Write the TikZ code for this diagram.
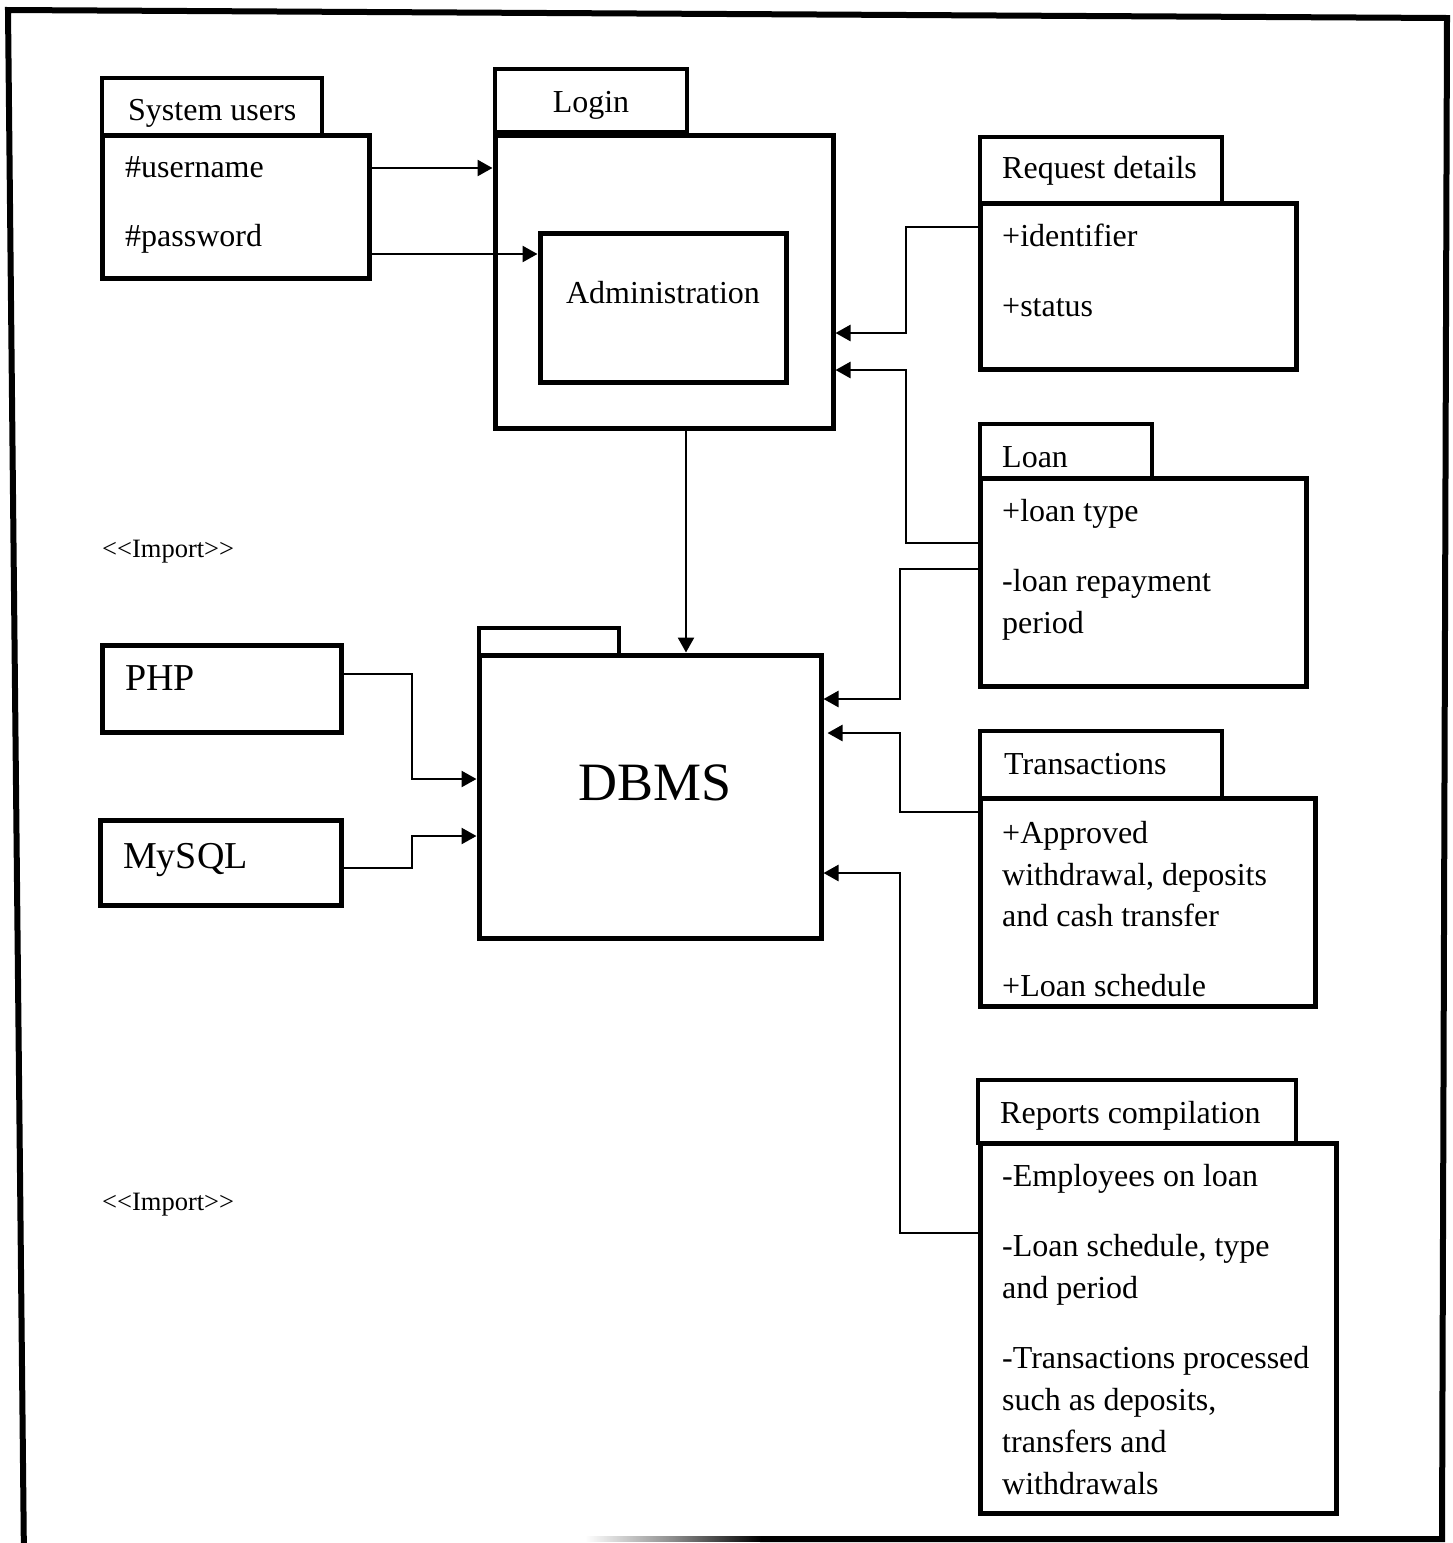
\documentclass[tikz,border=0pt]{standalone}
\usepackage{fontspec}
\setmainfont{Liberation Serif}
\newfontfamily\plainserif{Liberation Serif}
\usetikzlibrary{arrows.meta,fit}
\begin{document}
\begin{tikzpicture}[x=1pt,y=-1pt,
  box/.style={draw,line width=5pt,fill=white,inner sep=0pt,rectangle},
  tab/.style={draw,line width=4.5pt,fill=white,inner sep=0pt,rectangle},
  txt/.style={inner sep=0pt,anchor=base west,font=\fontsize{32}{38}\selectfont},
  ctxt/.style={inner sep=0pt,anchor=base,font=\fontsize{32}{38}\selectfont},
  big/.style={inner sep=0pt,anchor=base west,font=\fontsize{38}{44}\selectfont},
  imp/.style={inner sep=0pt,anchor=base west,font=\plainserif\fontsize{26.5}{30}\selectfont},
  conn/.style={line width=2.5pt,-{Triangle[length=15pt,width=16pt]}},
  frame/.style={line width=6pt,line join=miter}]
\useasboundingbox (0,0) rectangle (1452,1543);
\fill[white] (0,0) rectangle (1452,1543);

% outer frame
\draw[frame] (24,1560) -- (8,10) -- (1447,18) -- (1442,1539) -- (760,1539);
\shade[left color=white,right color=black,middle color=black!45] (585,1536.5) rectangle (761,1541.5);

% package tabs
\node[tab,fit={(102,78) (322,137)}] (sutab) {};
\node[tab,fit={(495,69) (687,132)}] (logtab) {};
\node[tab,fit={(479,628) (619,655)}] (dbtab) {};
\node[tab,fit={(980,137) (1222,203)}] (rqtab) {};
\node[tab,fit={(980,424) (1152,478)}] (lntab) {};
\node[tab,fit={(980,731) (1222,798)}] (trtab) {};
\node[tab,fit={(978,1080) (1296,1143)}] (rptab) {};

% package bodies
\node[box,fit={(102,135) (369,278)}] (su) {};
\node[box,fit={(495,135) (833,428)}] (login) {};
\node[box,fit={(540,233) (786,382)}] (admin) {};
\node[box,fit={(479,655) (821,938)}] (dbms) {};
\node[box,fit={(102,645) (341,732)}] (php) {};
\node[box,fit={(100,820) (341,905)}] (mysql) {};
\node[box,fit={(980,203) (1296,369)}] (rq) {};
\node[box,fit={(980,478) (1306,686)}] (ln) {};
\node[box,fit={(980,798) (1315,1006)}] (tr) {};
\node[box,fit={(980,1143) (1336,1513)}] (rp) {};

% texts
\node[txt] (susname) at (128,120) {System users};
\node[txt] (suuser) at (125,177) {\#username};
\node[txt] (supass) at (125,246) {\#password};
\node[ctxt] (logname) at (591,112) {Login};
\node[ctxt] (adminname) at (663,303) {Administration};
\node[inner sep=0pt,anchor=base,font=\fontsize{54}{60}\selectfont] (dbname) at (655,800) {DBMS};
\node[big] (phpname) at (125,690) {PHP};
\node[big] (mysqlname) at (123,868) {MySQL};

\node[txt] (rqname) at (1002,178) {Request details};
\node[txt] (rq1) at (1002,246) {+identifier};
\node[txt] (rq2) at (1002,316) {+status};

\node[txt] (lnname) at (1002,467) {Loan};
\node[txt] (ln1) at (1002,521) {+loan type};
\node[txt] (ln2) at (1002,591) {-loan repayment};
\node[txt] (ln3) at (1002,633) {period};

\node[txt] (trname) at (1004,774) {Transactions};
\node[txt] (tr1) at (1002,843) {+Approved};
\node[txt] (tr2) at (1002,885) {withdrawal, deposits};
\node[txt] (tr3) at (1002,926) {and cash transfer};
\node[txt] (tr4) at (1002,996) {+Loan schedule};

\node[txt] (rpname) at (1000,1123) {Reports compilation};
\node[txt] (rp1) at (1002,1186) {-Employees on loan};
\node[txt] (rp2) at (1002,1256) {-Loan schedule, type};
\node[txt] (rp3) at (1002,1298) {and period};
\node[txt] (rp4) at (1002,1368) {-Transactions processed};
\node[txt] (rp5) at (1002,1410) {such as deposits,};
\node[txt] (rp6) at (1002,1452) {transfers and};
\node[txt] (rp7) at (1002,1494) {withdrawals};

\node[imp] (imp1) at (102,557) {<<Import>>};
\node[imp] (imp2) at (102,1210) {<<Import>>};

% connectors
\draw[conn] (su.east |- 0,168) -- (login.west |- 0,168);
\draw[conn] (su.east |- 0,254) -- (admin.west |- 0,254);
\draw[conn] (rq.west |- 0,227) -| (906,333) -- (login.east |- 0,333);
\draw[conn] (ln.west |- 0,543) -| (906,370) -- (login.east |- 0,370);
\draw[conn] (login.south -| 686,0) -- (dbms.north -| 686,0);
\draw[conn] (ln.west |- 0,569) -| (900,699) -- (dbms.east |- 0,699);
\draw[conn,shorten >=4pt] (tr.west |- 0,812) -| (900,733) -- (dbms.east |- 0,733);
\draw[conn] (rp.west |- 0,1233) -| (900,873) -- (dbms.east |- 0,873);
\draw[conn] (php.east |- 0,674) -| (412,779) -- (dbms.west |- 0,779);
\draw[conn] (mysql.east |- 0,868) -| (412,836) -- (dbms.west |- 0,836);
\end{tikzpicture}
\end{document}
